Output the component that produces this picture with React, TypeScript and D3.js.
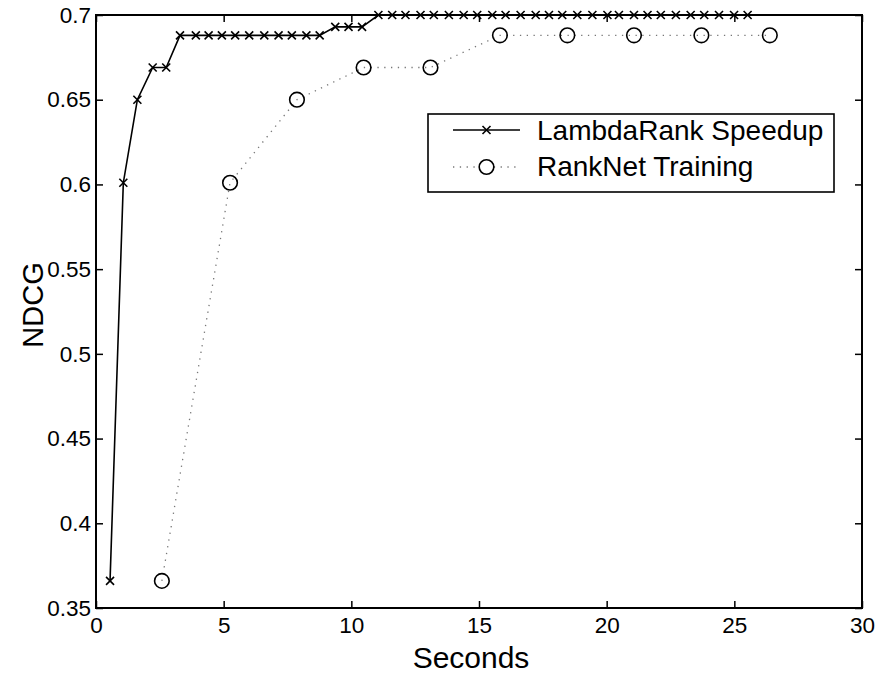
import * as d3 from 'd3';
import React, { useRef, useEffect } from 'react';

// LambdaRank Speedup (solid line, x markers)
const lambdaSec = [0.55, 1.07, 1.62, 2.22, 2.75, 3.29, 3.91, 4.41, 4.93, 5.45, 6.0, 6.59, 7.15, 7.67, 8.24, 8.76,
  9.37, 9.89, 10.42, 11.06, 11.6, 12.12, 12.71, 13.23, 13.82, 14.4, 14.93, 15.52, 16.04, 16.63, 17.22, 17.74,
  18.26, 18.85, 19.44, 20.03, 20.48, 21.07, 21.6, 22.12, 22.71, 23.29, 23.82, 24.4, 24.99, 25.52];
const lambdaNdcg = [0.366, 0.601, 0.65, 0.669, 0.669, 0.688, 0.688, 0.688, 0.688, 0.688, 0.688, 0.688, 0.688, 0.688, 0.688, 0.688,
  0.693, 0.693, 0.693, 0.7, 0.7, 0.7, 0.7, 0.7, 0.7, 0.7, 0.7, 0.7, 0.7, 0.7, 0.7, 0.7,
  0.7, 0.7, 0.7, 0.7, 0.7, 0.7, 0.7, 0.7, 0.7, 0.7, 0.7, 0.7, 0.7, 0.7];

// RankNet Training (dotted line, circles)
const ranknetSec = [2.58, 5.25, 7.87, 10.48, 13.1, 15.82, 18.46, 21.07, 23.71, 26.39];
const ranknetNdcg = [0.366, 0.601, 0.65, 0.669, 0.669, 0.688, 0.688, 0.688, 0.688, 0.688];

const xTicks = [0, 5, 10, 15, 20, 25, 30];
const yTicks = [0.35, 0.4, 0.45, 0.5, 0.55, 0.6, 0.65, 0.7];
const seriesNames = ['LambdaRank Speedup', 'RankNet Training'];

const W = 886;
const H = 674;
const left = 96, right = 862, top = 15, bottom = 608;
const font = '"Liberation Sans", Arial, sans-serif';

export default function App() {
  const ref = useRef<SVGSVGElement>(null);

  const x = d3.scaleLinear().domain([0, 30]).range([left, right]);
  const y = d3.scaleLinear().domain([0.35, 0.7]).range([bottom, top]);

  useEffect(() => {
    const svg = d3.select(ref.current);
    svg.selectAll('.axis').remove();

    const fmt = (d: number) => String(+d.toFixed(2));

    const styleAxis = (g: any) => {
      g.select('.domain').remove();
      g.selectAll('line').attr('stroke', '#000').attr('stroke-width', 1.5);
      g.selectAll('text').attr('fill', '#000').style('font-family', font).style('font-size', '22.5px');
    };

    svg.append('g').attr('class', 'axis')
      .attr('transform', `translate(0,${bottom})`)
      .call(d3.axisBottom(x).tickValues(xTicks).tickSizeInner(-7).tickSizeOuter(0).tickPadding(9).tickFormat(fmt as any))
      .call(styleAxis);
    svg.append('g').attr('class', 'axis')
      .attr('transform', `translate(0,${top})`)
      .call(d3.axisTop(x).tickValues(xTicks).tickSizeInner(-7).tickSizeOuter(0).tickFormat(() => ''))
      .call(styleAxis);
    svg.append('g').attr('class', 'axis')
      .attr('transform', `translate(${left},0)`)
      .call(d3.axisLeft(y).tickValues(yTicks).tickSizeInner(-7).tickSizeOuter(0).tickPadding(5).tickFormat(fmt as any))
      .call(styleAxis);
    svg.append('g').attr('class', 'axis')
      .attr('transform', `translate(${right},0)`)
      .call(d3.axisRight(y).tickValues(yTicks).tickSizeInner(-7).tickSizeOuter(0).tickFormat(() => ''))
      .call(styleAxis);
  }, []);

  const lambdaPts: [number, number][] = lambdaSec.map((s, i) => [x(s), y(lambdaNdcg[i])]);
  const ranknetPts: [number, number][] = ranknetSec.map((s, i) => [x(s), y(ranknetNdcg[i])]);
  const line = d3.line();

  const cross = (cx: number, cy: number, k: string, r = 4) => (
    <path key={k} d={`M${cx - r},${cy - r}L${cx + r},${cy + r}M${cx - r},${cy + r}L${cx + r},${cy - r}`}
      stroke="#000" strokeWidth={1.6} fill="none" />
  );

  // legend
  const lgX = 428, lgY = 114, lgW = 406, lgH = 78;

  return (
    <svg ref={ref} width={W} height={H} style={{ position: 'absolute', left: 0, top: 0, background: '#fff' }}>
      <rect x={0} y={0} width={W} height={H} fill="#fff" />

      {/* ranknet */}
      <path d={line(ranknetPts) || ''} fill="none" stroke="#777" strokeWidth={1.3} strokeDasharray="1.3 5.5" />
      {ranknetPts.map((p, i) => (
        <circle key={'c' + i} cx={p[0]} cy={p[1]} r={7.3} fill="none" stroke="#000" strokeWidth={1.6} />
      ))}

      {/* lambdarank */}
      <path d={line(lambdaPts) || ''} fill="none" stroke="#000" strokeWidth={1.6} />
      {lambdaPts.map((p, i) => cross(p[0], p[1], 'x' + i))}

      {/* frame */}
      <rect x={left} y={top} width={right - left} height={bottom - top} fill="none" stroke="#000" strokeWidth={2} />

      {/* axis labels */}
      <text x={471} y={668} textAnchor="middle" fontFamily={font} fontSize={30} fill="#000">Seconds</text>
      <text transform={`translate(43,305) rotate(-90)`} textAnchor="middle" fontFamily={font}
        fontSize={29} fill="#000">NDCG</text>

      {/* legend */}
      <rect x={lgX} y={lgY} width={lgW} height={lgH} fill="#fff" stroke="#000" strokeWidth={1.6} />
      <line x1={453} x2={520} y1={130} y2={130} stroke="#000" strokeWidth={1.6} />
      {cross(486.5, 130, 'lgx')}
      <line x1={453} x2={520} y1={167} y2={167} stroke="#777" strokeWidth={1.3} strokeDasharray="1.3 5.5" />
      <circle cx={486.5} cy={167} r={7.3} fill="#fff" stroke="#000" strokeWidth={1.6} />
      <text x={537} y={140} fontFamily={font} fontSize={28} fill="#000">{seriesNames[0]}</text>
      <text x={537} y={176} fontFamily={font} fontSize={28} fill="#000">{seriesNames[1]}</text>
    </svg>
  );
}
